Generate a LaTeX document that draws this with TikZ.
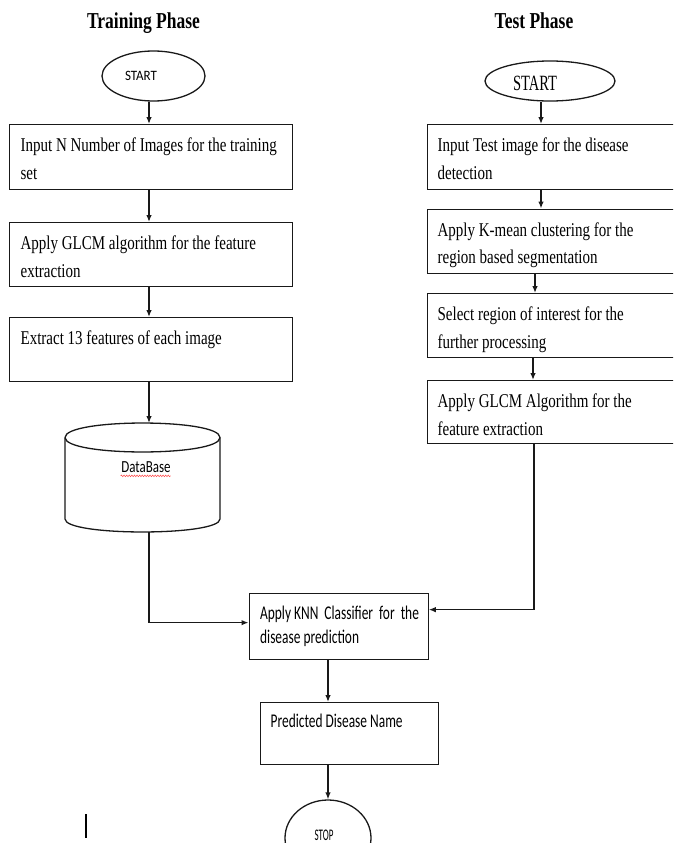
\documentclass[tikz,border=0pt]{standalone}
\usepackage{fontspec}
\setmainfont{Liberation Serif}
\newfontfamily\calibfont{Carlito}
\usetikzlibrary{shapes.geometric,arrows.meta,decorations.pathmorphing}
\begin{document}
\begin{tikzpicture}[x=1pt,y=-1pt,
  line width=1.3pt,
  procbox/.style={draw=black!90, rectangle, inner sep=0pt, anchor=north west},
  term/.style={draw=black!90, ellipse, inner sep=0pt},
  sertext/.style={inner sep=0pt, anchor=north west, align=left, yscale=1.3,
    text=black, font=\fontsize{15}{21.2}\selectfont},
  santext/.style={inner sep=0pt, anchor=north west, align=left, yscale=1.45,
    text=black, font=\calibfont\fontsize{13.4}{16.5}\selectfont},
  phasetitle/.style={inner sep=0pt, anchor=base, yscale=1.3,
    text=black, font=\bfseries\fontsize{17.5}{20}\selectfont},
  arr/.style={draw=black!90, -{Latex[length=7pt,width=5.5pt]}},
  link/.style={draw=black!90},
]
\useasboundingbox (0,0) rectangle (673,843);
\clip (0,0) rectangle (673,843);
\fill[white] (0,0) rectangle (673,843);

% ---------- phase titles ----------
\node[phasetitle] (ttrain) at (143.5,28.3) {Training Phase};
\node[phasetitle] (ttest) at (534,28.3) {Test Phase};

% ---------- training column ----------
\node[term, minimum width=103pt, minimum height=50pt] (S1) at (153.5,76) {};
\node[inner sep=0pt, anchor=base, yscale=1.1, text=black,
  font=\calibfont\fontsize{13}{15}\selectfont] (S1t) at (141,81) {START};

\node[procbox, minimum width=283pt, minimum height=65pt] (A1) at (9,124) {};
\node[sertext] (A1t) at (20,137.2) {Input N Number of Images for the training\\set};

\node[procbox, minimum width=283pt, minimum height=64pt] (A2) at (9,222) {};
\node[sertext] (A2t) at (20,235.2) {Apply GLCM algorithm for the feature\\extraction};

\node[procbox, minimum width=283pt, minimum height=64pt] (A3) at (9,317) {};
\node[sertext] (A3t) at (20,330.2) {Extract 13 features of each image};

% database cylinder
\draw[link] (65,437.5) .. controls (65,418.2) and (220,418.2) .. (220,437.5)
            .. controls (220,456.8) and (65,456.8) .. (65,437.5);
\draw[link] (65,437.5) -- (65,519)
            .. controls (65,536.3) and (220,536.3) .. (220,519) -- (220,437.5);
\coordinate (dbtop) at (149,423);
\coordinate (dbbot) at (149,532);
\node[inner sep=0pt, anchor=base, yscale=1.3, text=black,
  font=\calibfont\fontsize{13}{15}\selectfont] (dbt) at (146,472.7) {DataBase};
\draw[red!75, line width=0.5pt, decorate,
  decoration={snake, amplitude=0.8pt, segment length=2.6pt}]
  (dbt.south west) ++(0,2.2) -- ++(50,0);

% ---------- test column ----------
\node[term, minimum width=130pt, minimum height=40pt] (S2) at (550,81) {};
\node[inner sep=0pt, anchor=base, yscale=1.5, text=black,
  font=\fontsize{14.5}{16}\selectfont] (S2t) at (535,90) {START};

\node[procbox, minimum width=263pt, minimum height=65pt] (B1) at (427,124) {};
\node[sertext] (B1t) at (437,137.2) {Input Test image for the disease\\detection};

\node[procbox, minimum width=263pt, minimum height=64.5pt] (B2) at (427,208.5) {};
\node[sertext] (B2t) at (437,221.7) {Apply K-mean clustering for the\\region based segmentation};

\node[procbox, minimum width=263pt, minimum height=64pt] (B3) at (427,293) {};
\node[sertext] (B3t) at (437,306.2) {Select region of interest for the\\further processing};

\node[procbox, minimum width=263pt, minimum height=63pt] (B4) at (427,380) {};
\node[sertext] (B4t) at (437,393.2) {Apply GLCM Algorithm for the\\feature extraction};

% ---------- common part ----------
\node[procbox, minimum width=179pt, minimum height=66pt] (knn) at (248.5,592.5) {};
\node[santext] (knnt) at (259.5,605.5) {Apply KNN\ \ Classifier\ \ for\ \ the\\disease prediction};

\node[procbox, minimum width=178pt, minimum height=62pt] (pred) at (260,702) {};
\node[santext] (predt) at (270,713) {Predicted Disease Name};

\node[term, minimum width=86pt, minimum height=76pt] (stop) at (328,838) {};
\node[inner sep=0pt, anchor=base, yscale=1.8, text=black,
  font=\calibfont\fontsize{9}{11}\selectfont] (stopt) at (324,840) {STOP};

% ---------- connectors ----------
\coordinate (cxl) at (149,0);
\draw[arr] (cxl |- S1.south) -- (cxl |- A1.north);
\draw[arr] (cxl |- A1.south) -- (cxl |- A2.north);
\draw[arr] (cxl |- A2.south) -- (cxl |- A3.north);
\draw[arr] (cxl |- A3.south) -- (dbtop);
\draw[arr] (dbbot) |- ([yshift=3.5pt]knn.west);

\coordinate (tx1) at (541,0);
\coordinate (tx2) at (535,0);
\coordinate (tx3) at (533,0);
\coordinate (cxr) at (534,0);
\draw[arr] (tx1 |- S2.south) -- (tx1 |- B1.north);
\draw[arr] (tx1 |- B1.south) -- (tx1 |- B2.north);
\draw[arr] (tx2 |- B2.south) -- (tx2 |- B3.north);
\draw[arr] (tx3 |- B3.south) -- (tx3 |- B4.north);
\draw[arr] (cxr |- B4.south) |- ([yshift=16.5pt]knn.east);

\coordinate (mx) at (328,0);
\draw[arr] (mx |- knn.south) -- (mx |- pred.north);
\draw[arr] (mx |- pred.south) -- (mx |- stop.north);

% text cursor mark
\draw[line width=2pt, black] (86,814) -- (86,838);
\end{tikzpicture}
\end{document}
